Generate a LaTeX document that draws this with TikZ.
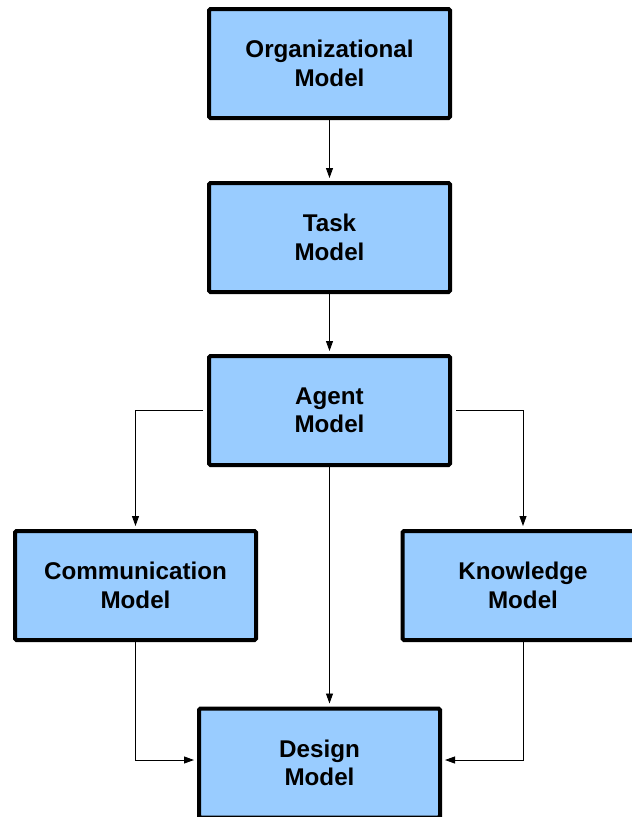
\documentclass[tikz,border=0pt]{standalone}
\usepackage{fontspec}
\setmainfont{Liberation Sans}
\usetikzlibrary{arrows.meta}
\definecolor{boxblue}{RGB}{153,204,255}
\tikzset{
  model/.style={draw=black, fill=boxblue, line width=4pt, rounded corners=1.5pt,
    minimum width=241pt, minimum height=109pt, align=center,
    font=\fontsize{24.2}{28.5}\selectfont\bfseries, inner sep=0pt},
  flow/.style={draw=black, line width=0.9pt,
    -{Triangle[length=10pt,width=7pt]}, shorten >=3pt}
}
\begin{document}
\begin{tikzpicture}[x=1pt,y=-1pt]
  \useasboundingbox (0,0) rectangle (632,817);
  \node[model] (org)    at (329.5,63.5)  {Organizational\\Model};
  \node[model] (task)   at (329.5,237.5) {Task\\Model};
  \node[model] (agent)  at (329.5,410.5) {Agent\\Model};
  \node[model] (comm)   at (135.5,585.5) {Communication\\Model};
  \node[model] (know)   at (523,585.5)   {Knowledge\\Model};
  \node[model] (design) at (319.5,763)   {Design\\Model};

  \draw[flow] (org) -- (task);
  \draw[flow] (task) -- (agent);
  \draw[flow, shorten <=4pt] (agent.west) -| (comm.north);
  \draw[flow, shorten <=4pt] (agent.east) -| (know.north);
  \draw[flow] (agent.south) -- (agent.south |- design.north);
  \draw[flow] (comm.south) |- ([yshift=3pt]design.west);
  \draw[flow] (know.south) |- ([yshift=3pt]design.east);
\end{tikzpicture}
\end{document}
